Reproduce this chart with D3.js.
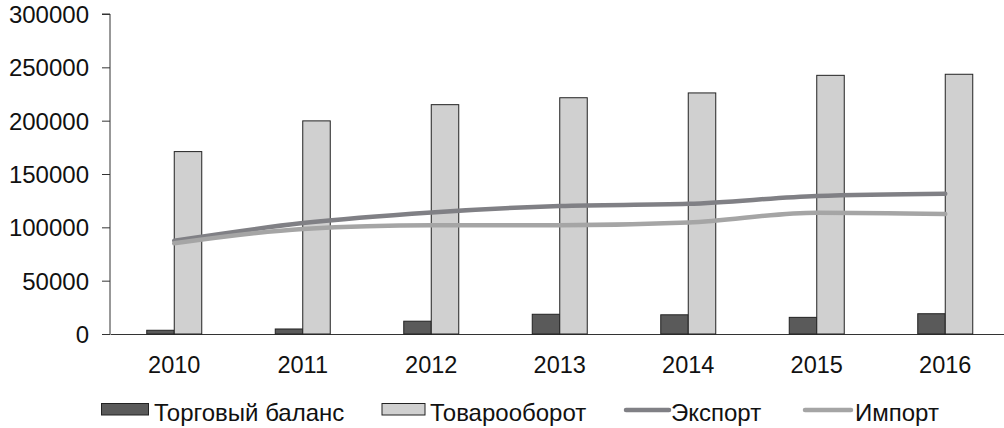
<!DOCTYPE html>
<html><head><meta charset="utf-8">
<script src="https://cdn.jsdelivr.net/npm/d3@7"></script>
<style>body{margin:0;background:#fff}svg{display:block}</style>
</head><body>
<svg id="c" width="1004" height="428"></svg>
<script>
const years = ["2010","2011","2012","2013","2014","2015","2016"];
const balance = [3500, 4700, 12000, 18500, 18000, 15600, 19000];
const turnover = [171000, 199800, 215000, 221500, 226000, 242500, 243500];
const exportV = [87500, 104000, 114000, 120000, 122000, 129400, 131500];
const importV = [85000, 98500, 102000, 102000, 104500, 113700, 112500];
const yTicks = [0, 50000, 100000, 150000, 200000, 250000, 300000];

const svg = d3.select("#c");
const font = "Liberation Sans, Arial, sans-serif";
const x = d3.scaleBand().domain(years).range([110, 1009.5]).paddingInner(0).paddingOuter(0);
const y = d3.scaleLinear().domain([0, 300000]).range([334, 14]);
const bw = 27.5;

// axes
const yAxis = svg.append("g").attr("transform","translate(110,0)")
  .call(d3.axisLeft(y).tickValues(yTicks).tickSize(8).tickPadding(13).tickFormat(d3.format("d")));
yAxis.select(".domain").attr("stroke","#333").attr("d","M-8,14H0V334");
yAxis.selectAll(".tick line").attr("stroke","#333");
yAxis.selectAll("text").attr("font-family",font).attr("font-size",24).attr("fill","#111").attr("dy","0.36em");

const xAxis = svg.append("g").attr("transform","translate(0,334)")
  .call(d3.axisBottom(x).tickSize(0).tickPadding(22));
xAxis.select(".domain").attr("stroke","#333");
xAxis.selectAll("text").attr("font-family",font).attr("font-size",23.5).attr("fill","#111");
yAxis.select(".domain").raise();

const cx = d => x(d) + x.bandwidth()/2;

// bars
svg.append("g").selectAll("rect").data(years).join("rect")
  .attr("x", d => cx(d) - bw).attr("width", bw)
  .attr("y", (d,i) => y(balance[i])).attr("height", (d,i) => y(0) - y(balance[i]))
  .attr("fill","#5a5a5a").attr("stroke","#222").attr("stroke-width",1);
svg.append("g").selectAll("rect").data(years).join("rect")
  .attr("x", d => cx(d)).attr("width", bw)
  .attr("y", (d,i) => y(turnover[i])).attr("height", (d,i) => y(0) - y(turnover[i]))
  .attr("fill","#d0d0d0").attr("stroke","#222").attr("stroke-width",1);

// lines
const line = d3.line().x((d,i) => cx(years[i])).y(d => y(d)).curve(d3.curveMonotoneX);
svg.append("path").attr("d", line(exportV)).attr("fill","none").attr("stroke","#808085").attr("stroke-width",4.5).attr("stroke-linecap","round");
svg.append("path").attr("d", line(importV)).attr("fill","none").attr("stroke","#a5a5a5").attr("stroke-width",4.5).attr("stroke-linecap","round");

// legend
const lg = svg.append("g").attr("font-family",font).attr("font-size",24).attr("fill","#111");
const legend = [
  {label:"Торговый баланс", type:"rect", fill:"#5a5a5a", x0:101.5, x1:148.5, tx:154},
  {label:"Товарооборот", type:"rect", fill:"#d0d0d0", x0:382, x1:425, tx:430},
  {label:"Экспорт", type:"line", fill:"#808085", x0:626, x1:669, tx:671},
  {label:"Импорт", type:"line", fill:"#a5a5a5", x0:805, x1:851, tx:855}
];
legend.forEach(l => {
  if (l.type === "rect") {
    lg.append("rect").attr("x", l.x0).attr("y", 403.5).attr("width", l.x1-l.x0).attr("height", 11.5)
      .attr("fill", l.fill).attr("stroke","#222").attr("stroke-width",1);
  } else {
    lg.append("line").attr("x1", l.x0).attr("x2", l.x1).attr("y1", 410).attr("y2", 410)
      .attr("stroke", l.fill).attr("stroke-width",4.5).attr("stroke-linecap","round");
  }
  lg.append("text").attr("x", l.tx).attr("y", 420.5).text(l.label);
});
</script>
</body></html>
